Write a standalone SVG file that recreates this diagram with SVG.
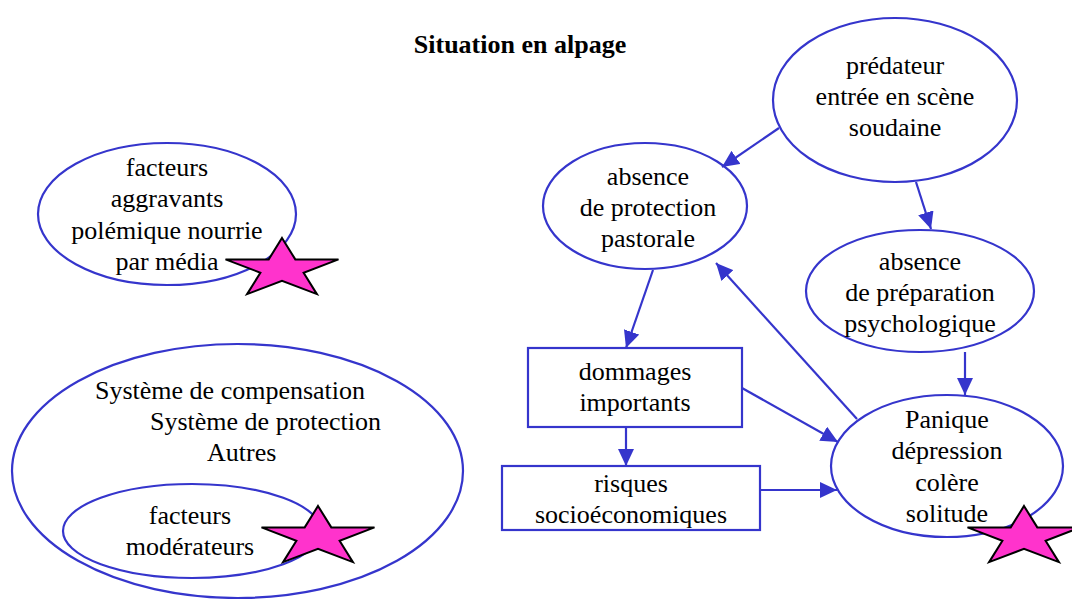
<svg xmlns="http://www.w3.org/2000/svg" width="1072" height="599" viewBox="0 0 1072 599">
<style>
.shape{fill:none;stroke:#3535cc;stroke-width:2.2}
.box{fill:#ffffff;stroke:#3535cc;stroke-width:2.2}
.edge{fill:none;stroke:#3535cc;stroke-width:2.2;marker-end:url(#arr)}
.t{font-family:"Liberation Serif","Times New Roman",serif;font-size:26px;fill:#000;text-anchor:middle}
.l{text-anchor:start}
.title{font-weight:bold}
.star{fill:#ff33cc;stroke:#000;stroke-width:2;stroke-linejoin:miter}
</style>
<defs>
<marker id="arr" markerUnits="userSpaceOnUse" markerWidth="18" markerHeight="16" refX="17" refY="8" orient="auto">
<path d="M0,0 L17,8 L0,16 z" fill="#3535cc"/>
</marker>
<polygon id="star" class="star" points="0,-31 13.3,-9.6 56.5,-9.6 21.6,3.7 34.9,25.1 0,11.8 -34.9,25.1 -21.6,3.7 -56.5,-9.6 -13.3,-9.6"/>
</defs>
<rect width="1072" height="599" fill="#ffffff"/>
<text class="t title" x="520" y="53">Situation en alpage</text>

<g id="connectors">
<line class="edge" x1="779" y1="128" x2="722" y2="167"/>
<line class="edge" x1="916" y1="182" x2="931" y2="229"/>
<line class="edge" x1="653" y1="270" x2="626" y2="348"/>
<line class="edge" x1="626" y1="427" x2="626" y2="466"/>
<line class="edge" x1="742" y1="388" x2="838" y2="442"/>
<line class="edge" x1="760" y1="490" x2="837" y2="490"/>
<line class="edge" x1="965" y1="352" x2="965" y2="395"/>
<line class="edge" x1="857" y1="419" x2="716" y2="263"/>
</g>

<g id="predateur">
<ellipse class="shape" cx="895" cy="100" rx="122" ry="82"/>
<text class="t" x="895" y="74">prédateur</text>
<text class="t" x="895" y="105">entrée en scène</text>
<text class="t" x="895" y="136">soudaine</text>
</g>

<g id="absence-protection">
<ellipse class="shape" cx="645" cy="206" rx="102" ry="63"/>
<text class="t" x="648" y="185">absence</text>
<text class="t" x="648" y="216">de protection</text>
<text class="t" x="648" y="247">pastorale</text>
</g>

<g id="absence-preparation">
<ellipse class="shape" cx="920" cy="291" rx="114" ry="61"/>
<text class="t" x="920" y="270">absence</text>
<text class="t" x="920" y="301">de préparation</text>
<text class="t" x="920" y="332">psychologique</text>
</g>

<g id="dommages">
<rect class="box" x="528" y="348" width="214" height="79"/>
<text class="t" x="635" y="380">dommages</text>
<text class="t" x="635" y="411">importants</text>
</g>

<g id="risques">
<rect class="box" x="502" y="466" width="258" height="64"/>
<text class="t" x="631" y="492">risques</text>
<text class="t" x="631" y="523">socioéconomiques</text>
</g>

<g id="panique">
<ellipse class="shape" cx="947" cy="466" rx="116" ry="71"/>
<use href="#star" x="1024" y="537"/>
<text class="t" x="947" y="428">Panique</text>
<text class="t" x="947" y="459">dépression</text>
<text class="t" x="947" y="491">colère</text>
<text class="t" x="947" y="522">solitude</text>
</g>

<g id="facteurs-aggravants">
<ellipse class="shape" cx="167" cy="214" rx="129" ry="71"/>
<use href="#star" x="282" y="269"/>
<text class="t" x="167" y="176">facteurs</text>
<text class="t" x="167" y="207">aggravants</text>
<text class="t" x="167" y="239">polémique nourrie</text>
<text class="t" x="167" y="270">par média</text>
</g>

<g id="systeme">
<ellipse class="shape" cx="237.5" cy="471" rx="225.5" ry="127"/>
<text class="t l" x="95" y="399">Système de compensation</text>
<text class="t l" x="150" y="430">Système de protection</text>
<text class="t l" x="207" y="461">Autres</text>
</g>

<g id="facteurs-moderateurs">
<ellipse class="shape" cx="192" cy="531" rx="129" ry="47"/>
<use href="#star" x="318" y="537"/>
<text class="t" x="190" y="524">facteurs</text>
<text class="t" x="190" y="555">modérateurs</text>
</g>
</svg>
